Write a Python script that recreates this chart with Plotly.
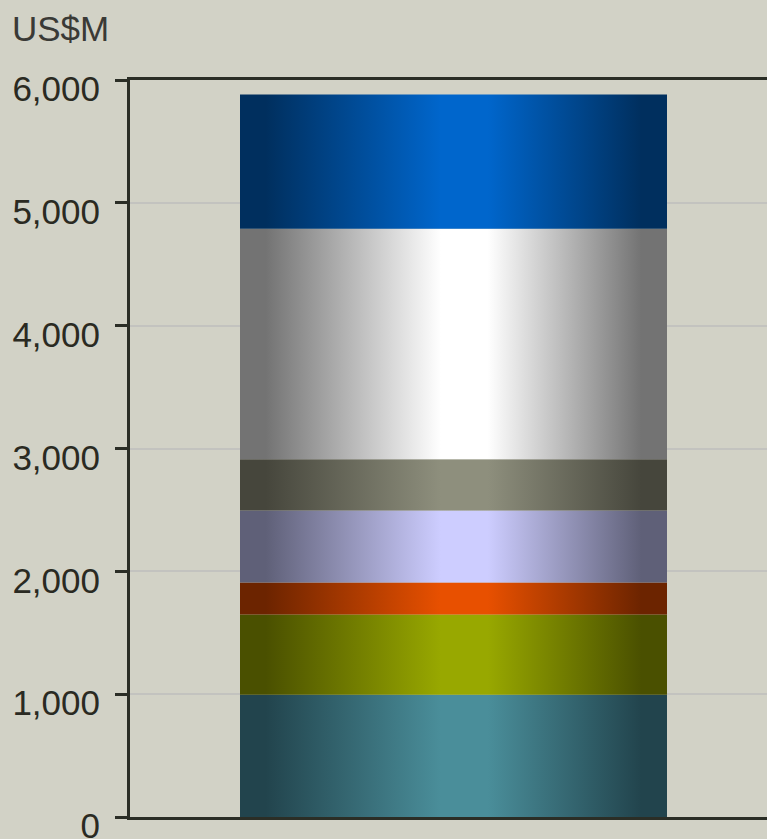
import plotly.graph_objects as go

# ---- data ----
segments = ["Segment 1", "Segment 2", "Segment 3", "Segment 4", "Segment 5", "Segment 6", "Segment 7"]
values = [995, 653, 261, 587, 416, 1876, 1093]
dark_colors = ["#22444d", "#4a5000", "#6c2400", "#5f6078", "#46463c", "#737373", "#002f5e"]
light_colors = ["#4a8e9a", "#98a800", "#e85000", "#cdcdff", "#8e8f7d", "#ffffff", "#0066cc"]
tick_vals = [0, 1000, 2000, 3000, 4000, 5000, 6000]
tick_text = ["0", "1,000", "2,000", "3,000", "4,000", "5,000", "6,000"]
unit_label = "US$M"

# ---- layout constants ----
BAR_CENTER = 0.0
BAR_HALF = 0.5
FONT = "Liberation Sans, Arial, sans-serif"
AXIS_COLOR = "#2b2e26"
BG = "#d2d2c6"

fig = go.Figure()
base = 0
for name, v, dk, lt in zip(segments, values, dark_colors, light_colors):
    x0, x1 = BAR_CENTER - BAR_HALF, BAR_CENTER + BAR_HALF
    y0, y1 = base, base + v
    fig.add_trace(go.Scatter(
        x=[x0, x1, x1, x0, x0],
        y=[y0, y0, y1, y1, y0],
        mode="lines",
        fill="toself",
        line=dict(width=0),
        fillgradient=dict(
            type="horizontal",
            start=x0, stop=x1,
            colorscale=[[0, dk], [0.06, dk], [0.47, lt], [0.58, lt], [0.94, dk], [1, dk]],
        ),
        name=name,
        hoverinfo="skip",
        showlegend=False,
    ))
    base += v

fig.update_layout(
    width=767, height=870,
    margin=dict(l=130, r=0, t=80, b=53),
    paper_bgcolor=BG, plot_bgcolor=BG,
    font=dict(family=FONT, color="#2a2a22", size=35),
    showlegend=False,
    xaxis=dict(
        range=[-0.7576, 0.7342], showgrid=False, zeroline=False,
        showticklabels=False, ticks="",
        showline=True, mirror=True, linecolor=AXIS_COLOR, linewidth=3,
        fixedrange=True,
    ),
    yaxis=dict(
        range=[0, 6000], tickvals=tick_vals, ticktext=tick_text,
        showgrid=True, gridcolor="#c3c3bf", gridwidth=2,
        zeroline=False, showline=True, linecolor=AXIS_COLOR, linewidth=3,
        ticks="outside", ticklen=12, tickwidth=3, tickcolor=AXIS_COLOR,
        ticklabelstandoff=8, ticklabelshift=9,
        tickfont=dict(family=FONT, size=35, color="#2a2a22"),
        fixedrange=True,
    ),
    annotations=[dict(
        text=unit_label, xref="paper", yref="paper",
        x=-120 / 637, y=(817 - 29) / 737, xanchor="left", yanchor="middle",
        showarrow=False, font=dict(family=FONT, size=35, color="#3a3a36"),
    )],
)

fig.write_html(
    "out.html",
    config={"displayModeBar": False},
    post_script=(
        "document.body.style.margin='0';"
        "document.body.style.background='#d2d2c6';"
        "document.documentElement.style.overflow='hidden';"
        "document.body.style.overflow='hidden';"
    ),
)
